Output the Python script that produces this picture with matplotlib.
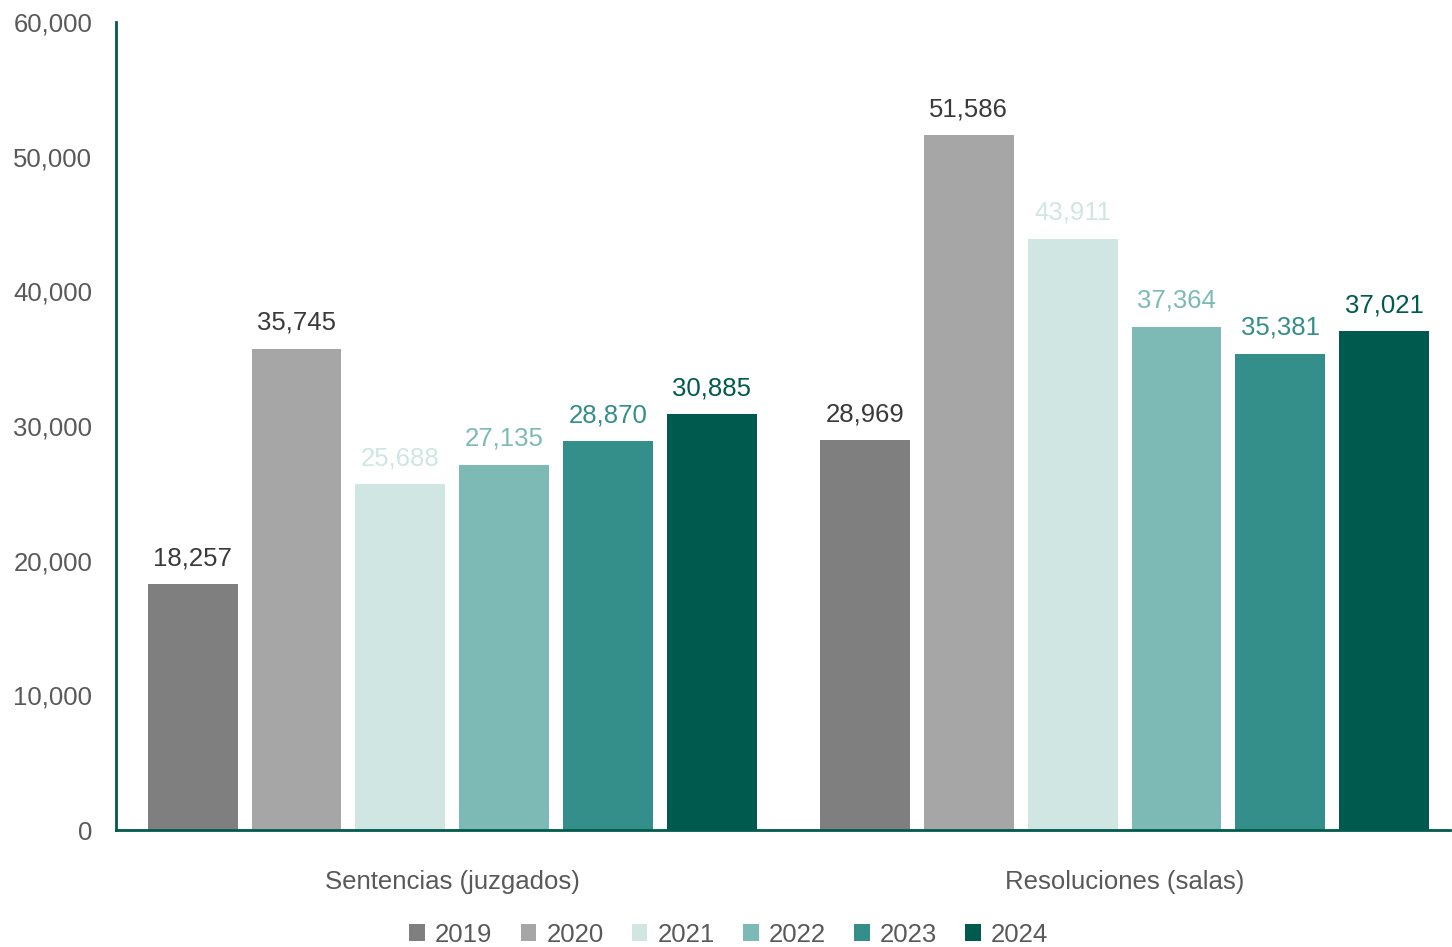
import matplotlib

matplotlib.use("Agg")
import matplotlib.pyplot as plt
import numpy as np
from matplotlib.ticker import FuncFormatter

plt.rcParams["font.family"] = ["Liberation Sans", "DejaVu Sans"]

categories = ["Sentencias (juzgados)", "Resoluciones (salas)"]
years = ["2019", "2020", "2021", "2022", "2023", "2024"]
values = {
    "2019": [18257, 28969],
    "2020": [35745, 51586],
    "2021": [25688, 43911],
    "2022": [27135, 37364],
    "2023": [28870, 35381],
    "2024": [30885, 37021],
}
colors = ["#7f7f7f", "#a6a6a6", "#cfe6e2", "#7dbab6", "#348e8a", "#005a4e"]
label_colors = ["#3a3a3a", "#3a3a3a", "#cfe6e2", "#7dbab6", "#348e8a", "#005a4e"]

AXIS = "#005a4e"
TEXT = "#595959"
FS = 18.5

fig = plt.figure(figsize=(14.52, 9.47), dpi=100)
ax = fig.add_axes([0.0799, 0.1235, 0.9187, 0.8533])

x = np.arange(len(categories))
step = 0.1544
width = 0.1336
for i, year in enumerate(years):
    offs = (i - (len(years) - 1) / 2) * step
    bars = ax.bar(x + offs, values[year], width, color=colors[i], label=year, zorder=2)
    for bar, v in zip(bars, values[year]):
        ax.annotate(
            f"{v:,}",
            (bar.get_x() + bar.get_width() / 2, bar.get_height()),
            xytext=(0, 10),
            textcoords="offset points",
            ha="center",
            va="bottom",
            fontsize=FS,
            color=label_colors[i],
        )

ax.set_xlim(-0.5, 1.484)
ax.set_ylim(0, 60000)
ax.set_yticks(np.arange(0, 60001, 10000))
ax.yaxis.set_major_formatter(FuncFormatter(lambda v, _: f"{int(v):,}"))
ax.set_xticks(x)
ax.set_xticklabels(categories)
ax.tick_params(axis="both", length=0, labelsize=FS, labelcolor=TEXT)
ax.tick_params(axis="x", pad=29)
ax.tick_params(axis="y", pad=17)

for side in ["top", "right"]:
    ax.spines[side].set_visible(False)
for side in ["left", "bottom"]:
    ax.spines[side].set_color(AXIS)
    ax.spines[side].set_linewidth(2)

leg = fig.legend(
    loc="lower center",
    bbox_to_anchor=(0.502, -0.024),
    ncol=6,
    frameon=False,
    fontsize=FS,
    handlelength=0.6,
    handleheight=0.6,
    handletextpad=0.4,
    columnspacing=1.1,
)
for t in leg.get_texts():
    t.set_color(TEXT)

fig.savefig("out.png", dpi=100)
